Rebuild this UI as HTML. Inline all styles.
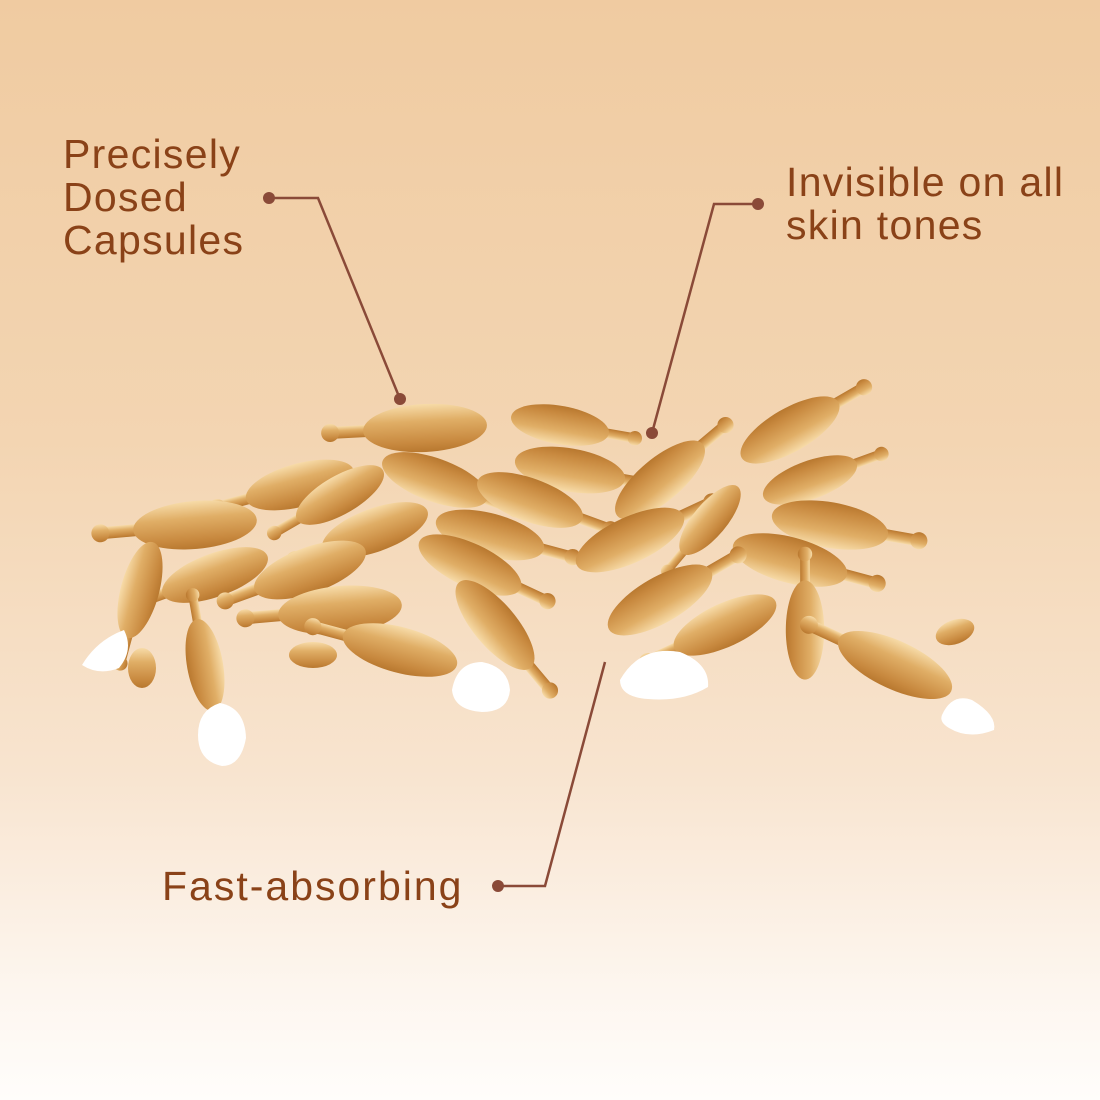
<!DOCTYPE html>
<html><head><meta charset="utf-8"><style>
html,body{margin:0;padding:0}
body{width:1100px;height:1100px;overflow:hidden;background:linear-gradient(#f0cba1 0%,#f3d5b2 40%,#f8e4cf 70%,#fdf6ef 90%,#fffdfb 100%);position:relative;font-family:"Liberation Sans",sans-serif}
.t{position:absolute;color:#8a4218;font-size:41px;line-height:43px;letter-spacing:1.3px;white-space:nowrap}
svg{position:absolute;left:0;top:0}
</style></head><body>
<div class="t" style="left:63px;top:133px">Precisely<br>Dosed<br>Capsules</div>
<div class="t" style="left:786px;top:161px">Invisible on all<br>skin tones</div>
<div class="t" style="left:162px;top:865px;letter-spacing:2px">Fast-absorbing</div>
<svg width="1100" height="1100" viewBox="0 0 1100 1100">
<defs>
<linearGradient id="g" x1="0" y1="0" x2="0" y2="1">
<stop offset="0" stop-color="#f7dba8"/><stop offset="0.35" stop-color="#e0ae66"/><stop offset="0.8" stop-color="#c8893f"/><stop offset="1" stop-color="#b8782f"/>
</linearGradient>
<g id="c">
<rect x="-95" y="-6" width="50" height="12" rx="6" fill="url(#g)"/>
<circle cx="-95" cy="0" r="9" fill="url(#g)"/>
<ellipse cx="0" cy="0" rx="62" ry="24" fill="url(#g)"/>
</g>
</defs>
<g>
<use href="#c" transform="translate(425,428) rotate(-3)"/>
<use href="#c" transform="translate(560,425) rotate(190) scale(0.8)"/>
<use href="#c" transform="translate(570,470) rotate(190) scale(0.9)"/>
<use href="#c" transform="translate(300,485) rotate(-15) scale(0.9)"/>
<use href="#c" transform="translate(435,480) rotate(200) scale(0.9)"/>
<use href="#c" transform="translate(530,500) rotate(200) scale(0.9)"/>
<use href="#c" transform="translate(340,495) rotate(-30) scale(0.8)"/>
<use href="#c" transform="translate(195,525) rotate(-5)"/>
<use href="#c" transform="translate(375,530) rotate(-20) scale(0.9)"/>
<use href="#c" transform="translate(490,535) rotate(195) scale(0.9)"/>
<use href="#c" transform="translate(215,575) rotate(-20) scale(0.9)"/>
<use href="#c" transform="translate(310,570) rotate(-20) scale(0.95)"/>
<use href="#c" transform="translate(470,565) rotate(205) scale(0.9)"/>
<use href="#c" transform="translate(340,610) rotate(-5) scale(1)"/>
<use href="#c" transform="translate(495,625) rotate(230) scale(0.9)"/>
<use href="#c" transform="translate(140,590) rotate(-75) scale(0.8)"/>
<use href="#c" transform="translate(205,665) rotate(80) scale(0.75)"/>
<use href="#c" transform="translate(400,650) rotate(15) scale(0.95)"/>
<use href="#c" transform="translate(660,480) rotate(140) scale(0.9)"/>
<use href="#c" transform="translate(790,430) rotate(150) scale(0.9)"/>
<use href="#c" transform="translate(630,540) rotate(155) scale(0.95)"/>
<use href="#c" transform="translate(710,520) rotate(-50) scale(0.7)"/>
<use href="#c" transform="translate(810,480) rotate(160) scale(0.8)"/>
<use href="#c" transform="translate(830,525) rotate(190) scale(0.95)"/>
<use href="#c" transform="translate(790,560) rotate(195) scale(0.95)"/>
<use href="#c" transform="translate(660,600) rotate(150) scale(0.95)"/>
<use href="#c" transform="translate(725,625) rotate(-25) scale(0.9)"/>
<use href="#c" transform="translate(805,630) rotate(90) scale(0.8)"/>
<use href="#c" transform="translate(895,665) rotate(25) scale(1)"/>
<ellipse cx="955" cy="632" rx="20" ry="12" transform="rotate(-20 955 632)" fill="url(#g)"/>
<ellipse cx="142" cy="668" rx="14" ry="20" fill="url(#g)"/>
<ellipse cx="313" cy="655" rx="24" ry="13" fill="url(#g)"/>
<path d="M82,665 q15,-25 42,-35 q10,20 -5,38 q-20,8 -37,-3z" fill="#fff"/>
<path d="M198,735 q0,-25 22,-32 q25,5 26,35 q-5,28 -24,28 q-24,-5 -24,-31z" fill="#fff"/>
<path d="M452,690 q5,-28 30,-28 q26,5 28,28 q-2,22 -28,22 q-28,-2 -30,-22z" fill="#fff"/>
<path d="M620,680 q20,-35 60,-28 q30,12 28,35 q-25,15 -60,12 q-28,-2 -28,-19z" fill="#fff"/>
<path d="M942,715 q10,-22 30,-15 q25,15 22,30 q-25,10 -45,-2 q-10,-6 -7,-13z" fill="#fff"/>
</g>
<g stroke="#8a4a38" stroke-width="2.5" fill="none">
<polyline points="269,198 318,198 400,399"/>
<polyline points="758,204 714,204 652,433"/>
<polyline points="498,886 545,886 605,662"/>
</g>
<g fill="#8a4a38">
<circle cx="269" cy="198" r="6"/><circle cx="400" cy="399" r="6"/>
<circle cx="758" cy="204" r="6"/><circle cx="652" cy="433" r="6"/>
<circle cx="498" cy="886" r="6"/>
</g>
</svg>
</body></html>
